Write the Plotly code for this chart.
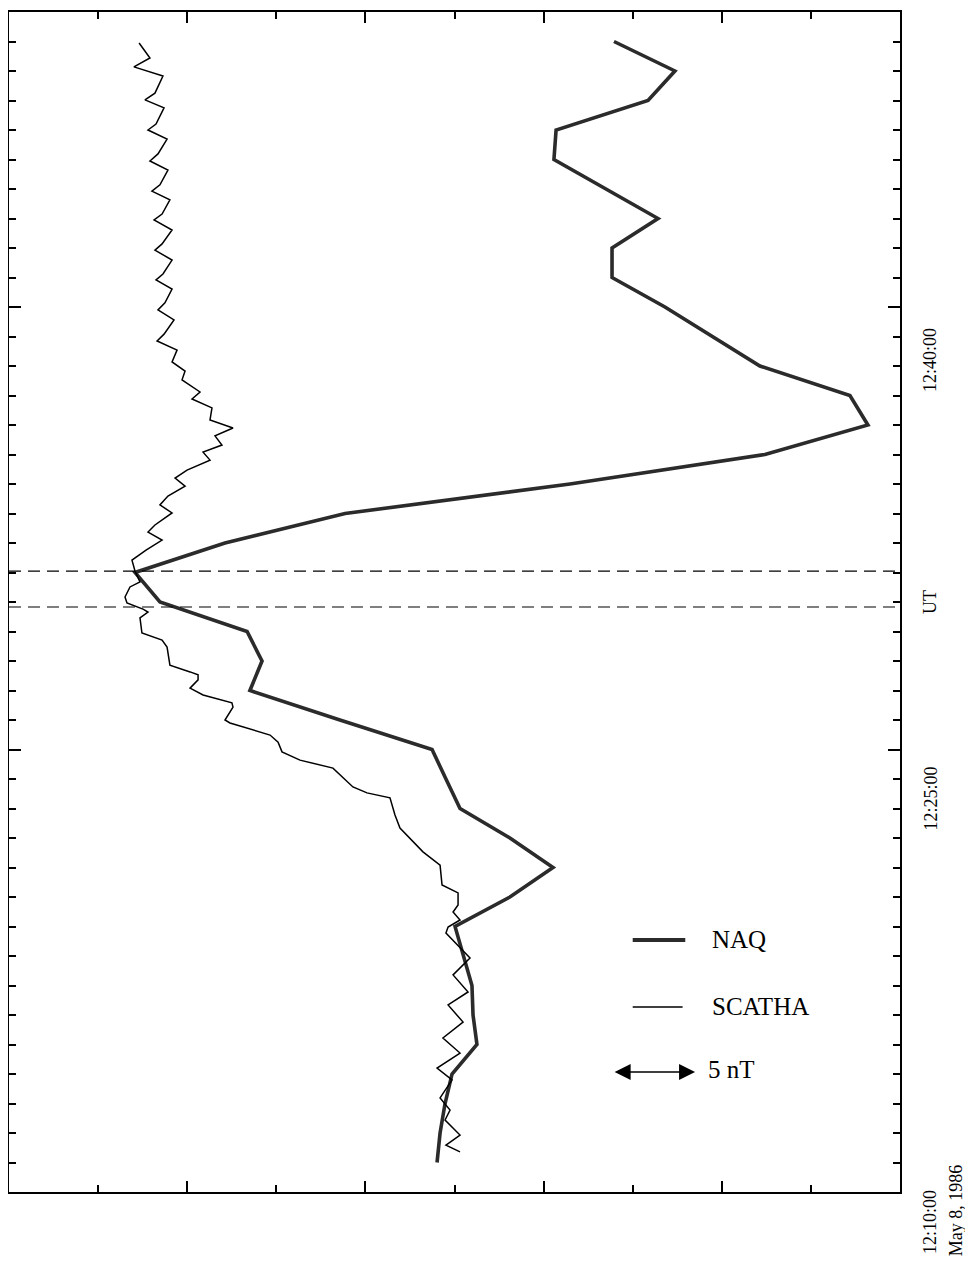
import plotly.graph_objects as go

# Time axis: minutes after 12:10:00 UT (May 8, 1986); field axis: nT (relative)
naq_t = [1, 2, 3, 4, 5, 6, 7, 8, 9, 10, 11, 12, 13, 14, 15, 16, 17, 18, 19, 20,
         21, 22, 23, 24, 25, 26, 27, 28, 29, 30, 31, 32, 33, 34, 35, 36, 37, 38, 39]
naq_b = [24.02, 24.19, 24.47, 24.86, 26.26, 26.04, 25.98, 25.48, 25.03, 28.11,
         30.53, 28.11, 25.31, 24.52, 23.74, 18.57, 13.52, 14.20, 13.36, 8.47,
         7.07, 12.12, 18.86, 31.48, 42.42, 48.20, 47.19, 42.14, 39.45, 36.81,
         33.84, 33.84, 36.42, 33.50, 30.58, 30.70, 35.86, 37.37, 33.95]

scatha_t = [38.95, 38.44, 38.14, 37.83, 37.25, 37.02, 36.75, 36.20, 36.00, 35.69,
            35.19, 34.95, 34.64, 34.14, 33.93, 33.63, 33.15, 32.95, 32.61, 32.14,
            31.93, 31.59, 31.12, 30.92, 30.61, 30.14, 29.90, 29.56, 29.08, 28.85,
            28.54, 28.14, 27.83, 27.53, 27.12, 26.88, 26.58, 26.17, 25.90, 25.63,
            25.32, 25.08, 24.81, 24.47, 24.20, 23.93, 23.59, 23.29, 23.02, 22.61,
            22.37, 22.10, 21.76, 21.42, 21.05, 20.68, 20.51, 20.17, 19.97, 19.76,
            19.66, 19.46, 18.95, 18.71, 18.47, 17.86, 17.63, 17.53, 17.36, 17.08,
            16.85, 16.58, 16.44, 16.00, 15.90, 15.49, 15.25, 14.92, 14.64, 14.37,
            13.73, 13.53, 13.36, 12.78, 12.34, 11.93, 11.53, 11.08, 10.41, 10.14,
            9.73, 9.49, 9.22, 8.98, 8.78, 7.93, 7.36, 6.78, 6.34, 5.76,
            5.22, 4.71, 4.20, 3.80, 3.19, 2.78, 2.44, 1.93, 1.59, 1.36]
scatha_b = [7.30, 7.91, 7.01, 8.64, 8.19, 7.63, 8.70, 8.25, 7.80, 8.87,
            8.36, 7.91, 8.92, 8.47, 8.02, 9.03, 8.59, 8.14, 9.15, 8.59,
            8.19, 9.15, 8.64, 8.25, 9.15, 8.75, 8.36, 9.26, 8.70, 8.31,
            9.43, 9.15, 9.88, 9.71, 10.72, 10.27, 11.39, 11.28, 12.57, 11.56,
            11.95, 10.89, 11.28, 9.99, 9.32, 9.88, 8.92, 8.47, 9.15, 8.19,
            7.80, 8.59, 7.69, 6.90, 7.07, 7.35, 6.79, 6.51, 6.62, 7.52,
            7.80, 7.35, 7.46, 8.59, 8.87, 9.03, 10.16, 10.61, 10.61, 10.16,
            10.89, 12.51, 12.57, 12.12, 12.40, 14.65, 15.10, 15.32, 16.33, 18.18,
            19.30, 20.09, 21.38, 21.66, 21.94, 22.61, 23.23, 24.19, 24.30, 25.20,
            25.20, 24.92, 25.31, 24.64, 24.52, 25.87, 24.92, 25.76, 24.64, 25.48,
            24.35, 25.31, 24.02, 24.86, 24.19, 24.75, 24.47, 25.31, 24.52, 25.31]

onset_lines = [19.83, 21.05]                # dashed markers
time_labels = ["12:10:00", "12:25:00", "12:40:00"]
time_label_pos = [0, 15, 30]
axis_title = "UT"
date_text = "May 8, 1986"
legend_names = ["NAQ", "SCATHA"]
scale_text = "5 nT"

SERIF = "Liberation Serif, Times New Roman, serif"

fig = go.Figure()
fig.add_trace(go.Scatter(x=naq_b, y=naq_t, mode="lines", name="NAQ",
                         line=dict(color="#2b2b2b", width=3.6), showlegend=False))
fig.add_trace(go.Scatter(x=scatha_b, y=scatha_t, mode="lines", name="SCATHA",
                         line=dict(color="black", width=1.5), showlegend=False))

for v in onset_lines:
    fig.add_shape(type="line", xref="paper", x0=0, x1=1, yref="y", y0=v, y1=v,
                  line=dict(color="black", width=1.2, dash="12px,7px"))

# time labels (rotated), placed below each labelled tick
label_shift = [-30, -49, -53]
for lab, pos, sh in zip(time_labels, time_label_pos, label_shift):
    fig.add_annotation(x=1.0337, xref="paper", y=pos, yref="y", text=lab,
                       textangle=-90, showarrow=False, yshift=sh,
                       xanchor="center", yanchor="middle",
                       font=dict(family=SERIF, size=18, color="black"))
fig.add_annotation(x=1.0337, xref="paper", y=20, yref="y", text=axis_title,
                   textangle=-90, showarrow=False, xanchor="center", yanchor="middle",
                   font=dict(family=SERIF, size=18, color="black"))
fig.add_annotation(x=1.063, xref="paper", y=0, yref="y", text=date_text,
                   textangle=-90, showarrow=False, yshift=-18,
                   xanchor="center", yanchor="middle",
                   font=dict(family=SERIF, size=18, color="black"))

# legend drawn in-plot
fig.add_shape(type="line", xref="paper", yref="paper", x0=0.700, x1=0.759,
              y0=0.2136, y1=0.2136, line=dict(color="#2b2b2b", width=4))
fig.add_shape(type="line", xref="paper", yref="paper", x0=0.700, x1=0.756,
              y0=0.1568, y1=0.1568, line=dict(color="black", width=1.5))
fig.add_annotation(x=0.787, xref="paper", y=0.2136, yref="paper", text=legend_names[0],
                   xanchor="left", yanchor="middle", showarrow=False,
                   font=dict(family=SERIF, size=25, color="black"))
fig.add_annotation(x=0.787, xref="paper", y=0.1568, yref="paper", text=legend_names[1],
                   xanchor="left", yanchor="middle", showarrow=False,
                   font=dict(family=SERIF, size=25, color="black"))
fig.add_annotation(x=0.770, xref="x domain", y=0.1017, yref="y domain",
                   ax=0.678, axref="x domain", ay=0.1017, ayref="y domain",
                   text="", showarrow=True, arrowhead=2, arrowside="end+start",
                   arrowsize=2, arrowwidth=1.6, arrowcolor="black")
fig.add_annotation(x=0.782, xref="paper", y=0.1040, yref="paper", text=scale_text,
                   xanchor="left", yanchor="middle", showarrow=False,
                   font=dict(family=SERIF, size=25, color="black"))

fig.update_xaxes(range=[0, 50], showgrid=False, zeroline=False, showticklabels=False,
                 showline=True, linecolor="black", linewidth=1.5, mirror="ticks",
                 ticks="inside", tickcolor="black", dtick=10, tick0=0, ticklen=11,
                 tickwidth=1.5,
                 minor=dict(ticks="inside", dtick=5, ticklen=7, tickcolor="black",
                            tickwidth=1.5, showgrid=False))
fig.update_yaxes(range=[0, 40], showgrid=False, zeroline=False, showticklabels=False,
                 showline=True, linecolor="black", linewidth=1.5, mirror="ticks",
                 ticks="inside", tickcolor="black", dtick=15, tick0=0, ticklen=12,
                 tickwidth=1.5,
                 minor=dict(ticks="inside", dtick=1, ticklen=7, tickcolor="black",
                            tickwidth=1.5, showgrid=False))

fig.update_layout(width=965, height=1262, margin=dict(l=1, r=73, t=4, b=78),
                  paper_bgcolor="white", plot_bgcolor="white", showlegend=False)

fig.write_html("out.html")
